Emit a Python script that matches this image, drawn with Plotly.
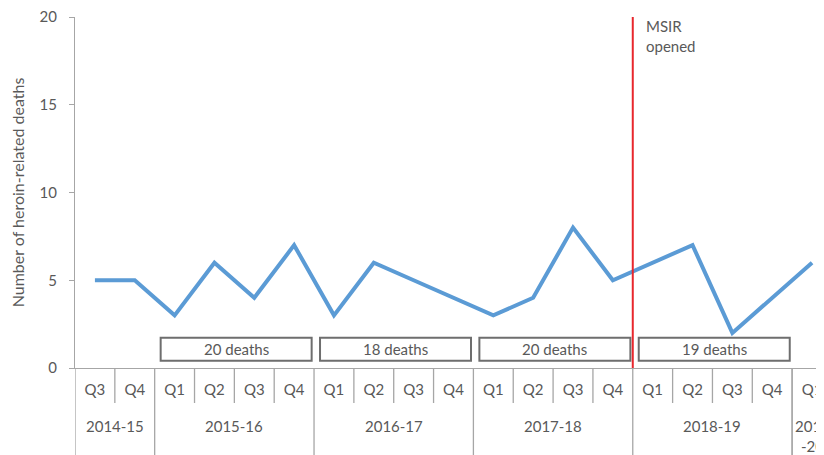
import plotly.graph_objects as go

# ---- data ----
quarters = ["Q3", "Q4",
            "Q1", "Q2", "Q3", "Q4",
            "Q1", "Q2", "Q3", "Q4",
            "Q1", "Q2", "Q3", "Q4",
            "Q1", "Q2", "Q3", "Q4",
            "Q1"]
fiscal_years = ["2014-15", "2015-16", "2016-17", "2017-18", "2018-19", "2019<br>-20"]
quarters_per_year = [2, 4, 4, 4, 4, 1]
deaths = [5, 5,
          3, 6, 4, 7,
          3, 6, 5, 4,
          3, 4, 8, 5,
          6, 7, 2, 4,
          6]
total_years = ["2015-16", "2016-17", "2017-18", "2018-19"]  # years with a total box
msir_after_year = "2017-18"
y_title = "Number of heroin-related deaths"

# ---- derived ----
year_of = []
for fy, n in zip(fiscal_years, quarters_per_year):
    year_of += [fy] * n
cats = [f"{y} {q}" for y, q in zip(year_of, quarters)]

GREY_TXT = "#595959"
AXIS = "#A6A6A6"
FONT = "Lato"

fig = go.Figure()
fig.add_trace(go.Scatter(
    x=cats, y=deaths, mode="lines",
    line=dict(color="#5B9BD5", width=4),
    hoverinfo="x+y", showlegend=False, cliponaxis=True,
))

shapes = []
annotations = []

bounds = []
start = 0
for fy, n in zip(fiscal_years, quarters_per_year):
    bounds.append((fy, start, start + n - 1))
    start += n

q_sep_bottom = -(403 - 368) / 351
y_sep_bottom = -0.3

for fy, s, e in bounds:
    shapes.append(dict(type="line", xref="x", yref="paper", x0=s - 0.5, x1=s - 0.5,
                       y0=0, y1=y_sep_bottom, line=dict(color=AXIS, width=1.3)))
    for i in range(s, e):
        shapes.append(dict(type="line", xref="x", yref="paper", x0=i + 0.5, x1=i + 0.5,
                           y0=0, y1=q_sep_bottom, line=dict(color=AXIS, width=1.3)))
    annotations.append(dict(x=(s + e) / 2, y=-0.135, xref="x", yref="paper",
                            text=fy, showarrow=False, xanchor="center", yanchor="top",
                            font=dict(family=FONT, size=15, color=GREY_TXT)))
    if fy == fiscal_years[-2]:
        shapes.append(dict(type="line", xref="x", yref="paper", x0=e + 0.5, x1=e + 0.5,
                           y0=0, y1=y_sep_bottom, line=dict(color=AXIS, width=1.3)))

for fy, s, e in bounds:
    if fy in total_years:
        total = sum(deaths[s:e + 1])
        x0, x1 = s - 0.5 + 0.15, e + 0.5 - 0.06
        shapes.append(dict(type="rect", xref="x", yref="y", x0=x0, x1=x1, y0=0.42, y1=1.73,
                           line=dict(color="#6E6E6E", width=2), fillcolor="white"))
        annotations.append(dict(x=(x0 + x1) / 2, y=1.075, xref="x", yref="y",
                                text=f"{total} deaths", showarrow=False,
                                font=dict(family=FONT, size=15, color=GREY_TXT)))

msir_x = [e for fy, s, e in bounds if fy == msir_after_year][0] + 0.5
shapes.append(dict(type="line", xref="x", yref="y", x0=msir_x, x1=msir_x, y0=0, y1=20,
                   line=dict(color="#E8272D", width=2)))
annotations.append(dict(x=msir_x, y=1.0, xref="x", yref="paper", xshift=11, yshift=2,
                        text="MSIR<br>opened", showarrow=False, align="left",
                        xanchor="left", yanchor="top",
                        font=dict(family=FONT, size=15, color=GREY_TXT)))

# page body has an 8px default margin, so the figure is sized to the visible area
fig.update_layout(
    width=816, height=447,
    margin=dict(l=67, r=0, t=9, b=87, autoexpand=False),
    paper_bgcolor="white", plot_bgcolor="white",
    font=dict(family=FONT, color=GREY_TXT),
    shapes=shapes, annotations=annotations,
    xaxis=dict(type="category", categoryorder="array", categoryarray=cats,
               range=[-0.5, 18.3], tickmode="array", tickvals=cats, ticktext=quarters,
               showline=True, linecolor=AXIS, linewidth=1.3, ticks="", showgrid=False,
               zeroline=False, tickfont=dict(family=FONT, size=15, color=GREY_TXT),
               ticklabelstandoff=8, automargin=False, ticklabeloverflow="allow"),
    yaxis=dict(range=[0, 20], tickvals=[0, 5, 10, 15, 20], showline=True, linecolor=AXIS,
               linewidth=1.3, ticks="outside", ticklen=5, tickcolor=AXIS, showgrid=False,
               zeroline=False, tickfont=dict(family=FONT, size=15, color=GREY_TXT),
               ticklabelstandoff=9, automargin=False, ticklabeloverflow="allow",
               title=dict(text=y_title, font=dict(family=FONT, size=16, color=GREY_TXT),
                          standoff=17)),
)

fig.write_html("out.html")
